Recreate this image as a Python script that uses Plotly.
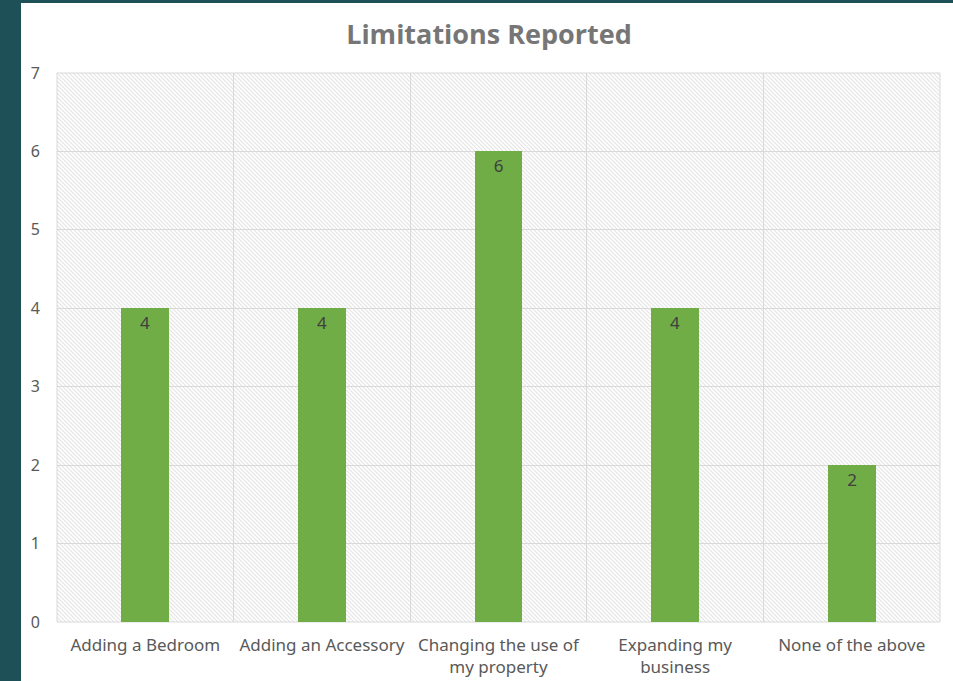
import plotly.graph_objects as go
import base64

categories = ["Adding a Bedroom", "Adding an Accessory", "Changing the use of<br>my property",
              "Expanding my<br>business", "None of the above"]
values = [4, 4, 6, 4, 2]
y_ticks = [0, 1, 2, 3, 4, 5, 6, 7]

W, H = 953, 681
L, R, T, B = 57, 13, 73, 59

svg = ('<svg xmlns="http://www.w3.org/2000/svg" width="883" height="549">'
       '<defs><pattern id="p" width="4" height="4" patternUnits="userSpaceOnUse">'
       '<rect width="4" height="4" fill="#ffffff"/>'
       '<path d="M0,0 L4,4 M-1,3 L1,5 M3,-1 L5,1" stroke="#e4e4e4" stroke-width="1.1"/>'
       '</pattern></defs><rect width="883" height="549" fill="url(#p)"/></svg>')
uri = "data:image/svg+xml;base64," + base64.b64encode(svg.encode()).decode()

FONT = "Noto Sans, Open Sans, sans-serif"

fig = go.Figure(go.Bar(
    x=categories, y=values, width=0.27,
    marker=dict(color="#70AD47", line=dict(width=0)),
    text=values, textposition="inside", insidetextanchor="end",
    textfont=dict(family=FONT, size=17, color="#404040"),
    cliponaxis=False,
))

pw = W - L - R
ph = H - T - B
fig.update_layout(
    width=W, height=H,
    margin=dict(l=L, r=R, t=T, b=B),
    paper_bgcolor="white",
    plot_bgcolor="rgba(0,0,0,0)",
    title=dict(text="<b>Limitations Reported</b>", x=(489 - L) / pw, xref="paper", xanchor="center",
               y=1 - 35 / H, yanchor="middle",
               font=dict(family="Open Sans, sans-serif", size=27, color="#767676")),
    showlegend=False,
    bargap=0,
    images=[dict(source=uri, xref="paper", yref="paper", x=0, y=1, sizex=1, sizey=1,
                 sizing="stretch", layer="below", xanchor="left", yanchor="top")],
    shapes=[
        dict(type="rect", xref="paper", yref="paper", x0=-L / pw, x1=(21 - L) / pw,
             y0=-B / ph, y1=1 + T / ph, fillcolor="#1D5157", line=dict(width=0), layer="above"),
        dict(type="rect", xref="paper", yref="paper", x0=-L / pw, x1=1 + R / pw,
             y0=1 + (T - 3) / ph, y1=1 + T / ph, fillcolor="#1D5157", line=dict(width=0), layer="above"),
        dict(type="rect", xref="paper", yref="paper", x0=0, x1=1, y0=0, y1=1,
             line=dict(color="#D9D9D9", width=1), layer="below"),
    ],
    xaxis=dict(
        type="category", tickson="boundaries", showgrid=True, gridcolor="#D9D9D9", gridwidth=1,
        ticks="", showline=False, zeroline=False, tickangle=0, automargin=False,
        tickfont=dict(family=FONT, size=17, color="#595959"),
        ticklabelstandoff=11,
    ),
    yaxis=dict(
        range=[0, 7], tickvals=y_ticks, showgrid=True, gridcolor="#D9D9D9", gridwidth=1,
        zeroline=False, showline=False, ticks="", automargin=False,
        tickfont=dict(family=FONT, size=16, color="#595959"),
        ticklabelstandoff=16,
    ),
)
fig.write_html("out.html", config={"displayModeBar": False},
               post_script="document.body.style.margin='0';document.body.style.overflow='hidden';")
